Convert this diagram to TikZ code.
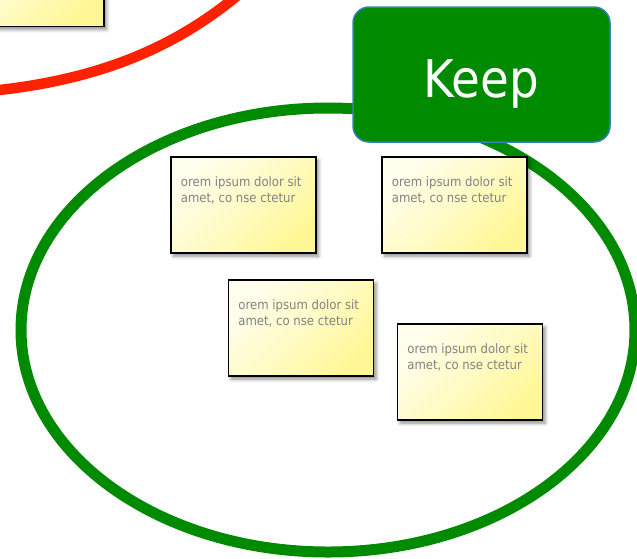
\documentclass[tikz,border=0pt]{standalone}
\usepackage{fontspec}
\usetikzlibrary{shadows.blur}
\newfontfamily\notefont{DejaVu Sans Condensed}

\definecolor{keepgreen}{RGB}{0,138,0}
\definecolor{dropred}{RGB}{255,34,0}
\definecolor{boxedge}{RGB}{52,128,190}
\definecolor{notelight}{RGB}{255,254,236}
\definecolor{notedark}{RGB}{255,247,150}
\definecolor{notegrey}{RGB}{130,130,130}

\tikzset{
  sticky/.style={draw=black, line width=1.6pt, minimum width=145pt, minimum height=96pt,
    inner sep=0pt, top color=notelight, bottom color=notedark,
    middle color=notelight!55!notedark, shading angle=45,
    blur shadow={shadow xshift=2.5pt, shadow yshift=-3pt, shadow blur radius=3.5pt,
      shadow opacity=45}},
  stickytext/.style={anchor=north west, inner sep=0pt, align=left, text=notegrey,
    font=\notefont\fontsize{13}{16}\selectfont},
  keepring/.style={draw=keepgreen, line width=11pt},
  dropring/.style={draw=dropred, line width=10.5pt},
  keepbox/.style={fill=keepgreen, draw=boxedge, line width=1.5pt, rounded corners=16pt,
    minimum width=257pt, minimum height=135pt, inner sep=0pt},
  keeplabel/.style={anchor=base, inner sep=0pt, text=white,
    font=\notefont\fontsize{52}{60}\selectfont}
}

\begin{document}
\begin{tikzpicture}[x=1pt, y=-1pt]
  \useasboundingbox (0,0) rectangle (637,558);
  \clip (0,0) rectangle (637,558);

  % partly visible note of the other group, and its red ring
  \node[sticky] (n0) at (31.5,-21.5) {};
  \draw[dropring] (-10,91) .. controls (100,80) and (175,47) .. (238,-5);

  % the "keep" ring
  \draw[keepring] (328,330) ellipse [x radius=307, y radius=222];

  % heading
  \node[keepbox] (keep) at (481.5,74.5) {};
  \node[keeplabel] (keeptext) at ([yshift=-22.5pt]keep.center) {Keep};

  % notes inside the ring
  \node[sticky] (n1) at (243.5,205) {};
  \node[stickytext] (t1) at ([xshift=10.5pt,yshift=-20pt]n1.north west)
    {orem ipsum dolor sit\\amet, co nse ctetur};

  \node[sticky] (n2) at (454.5,205) {};
  \node[stickytext] (t2) at ([xshift=10.5pt,yshift=-20pt]n2.north west)
    {orem ipsum dolor sit\\amet, co nse ctetur};

  \node[sticky] (n3) at (301,328) {};
  \node[stickytext] (t3) at ([xshift=10.5pt,yshift=-20pt]n3.north west)
    {orem ipsum dolor sit\\amet, co nse ctetur};

  \node[sticky] (n4) at (470,372) {};
  \node[stickytext] (t4) at ([xshift=10.5pt,yshift=-20pt]n4.north west)
    {orem ipsum dolor sit\\amet, co nse ctetur};
\end{tikzpicture}
\end{document}
